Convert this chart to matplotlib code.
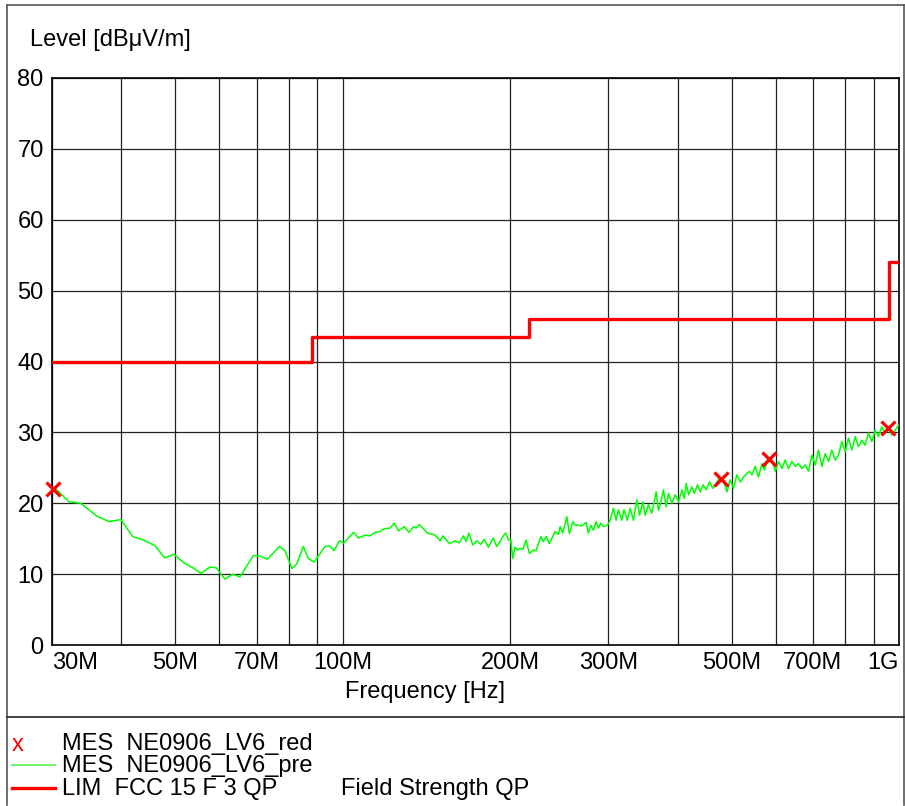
import numpy as np
import matplotlib
matplotlib.use("Agg")
import matplotlib.pyplot as plt
from matplotlib.lines import Line2D
from matplotlib.ticker import NullLocator

plt.rcParams['font.family'] = ['Liberation Sans', 'DejaVu Sans']

# preview scan (MHz, dBuV/m)
pre_freq = [30.4, 32.2, 33.8, 36.1, 38.0, 39.9, 41.9, 43.8, 46.0, 47.8, 49.7, 51.8, 54.0, 55.6,
            57.7, 59.2, 61.4, 63.4, 65.3, 69.0, 70.6, 73.2, 76.9, 78.7, 81.0, 82.6, 84.9, 86.7,
            88.8, 92.9, 94.6, 96.4, 98.6, 100.5, 104.5, 106.7, 109.7, 112.0, 114.3, 116.7, 118.6,
            121.6, 123.8, 125.9, 128.9, 131.6, 134.0, 135.5, 137.3, 142.0, 146.6, 149.6, 151.3,
            155.5, 159.2, 162.1, 164.8, 166.6, 168.5, 171.3, 174.1, 177.0, 179.7, 182.7, 186.5,
            189.1, 191.8, 193.9, 196.3, 198.5, 200.4, 202.1, 204.0, 206.0, 208.3, 210.7, 213.6,
            216.5, 220.2, 222.6, 227.0, 229.4, 232.0, 235.2, 240.8, 244.2, 245.9, 248.6, 252.8,
            255.5, 259.1, 261.6, 265.2, 269.0, 273.8, 276.4, 279.2, 282.2, 285.3, 288.1, 290.9,
            294.1, 299.0, 302.4, 306.5, 310.0, 313.0, 317.3, 320.4, 324.7, 328.6, 333.1, 337.9,
            341.5, 346.3, 349.6, 354.4, 359.3, 365.9, 369.4, 373.1, 377.1, 381.4, 385.1, 390.6,
            396.0, 401.4, 407.2, 411.0, 414.4, 418.4, 424.3, 428.4, 434.3, 439.2, 444.2, 450.2,
            456.3, 463.0, 467.4, 473.7, 483.7, 490.4, 497.2, 504.0, 511.1, 518.3, 525.4, 532.8,
            538.5, 544.3, 551.5, 559.1, 567.1, 572.5, 580.3, 590.9, 599.0, 607.3, 615.9, 624.4,
            632.9, 641.9, 650.8, 659.7, 669.0, 678.3, 687.7, 697.4, 707.0, 716.5, 726.8, 736.7,
            746.9, 757.4, 767.8, 778.4, 789.3, 800.3, 811.3, 822.8, 834.3, 845.4, 857.4, 869.2,
            881.3, 893.7, 906.0, 918.5, 931.3, 944.3, 957.4, 971.0, 984.4, 997.8]
pre_level = [22.1, 20.2, 20.0, 18.2, 17.4, 17.7, 15.3, 14.8, 14.0, 12.3, 12.8, 11.6, 10.8, 10.1,
             11.0, 10.9, 9.3, 10.0, 9.6, 12.6, 12.6, 12.1, 13.9, 13.3, 10.8, 11.4, 13.9, 12.2,
             11.7, 13.9, 14.0, 13.3, 14.7, 14.4, 15.9, 15.1, 15.5, 15.4, 15.9, 16.0, 16.4,
             16.5, 17.2, 16.1, 16.7, 15.9, 16.7, 16.5, 17.0, 15.8, 15.5, 14.7, 15.4,
             14.3, 14.7, 14.4, 15.4, 14.6, 15.8, 14.1, 14.7, 14.2, 14.9, 13.8, 15.1,
             13.9, 14.6, 15.3, 15.8, 14.8, 14.9, 12.2, 13.8, 13.4, 13.6, 13.5, 14.8,
             12.9, 13.4, 13.3, 15.3, 14.6, 15.3, 14.3, 16.0, 15.6, 16.7, 15.8, 18.1,
             15.7, 17.4, 16.9, 16.9, 16.8, 17.3, 15.8, 16.9, 16.2, 17.4, 16.5, 17.2,
             16.7, 16.9, 17.6, 19.3, 17.6, 19.1, 17.6, 19.1, 17.6, 19.3, 17.6, 20.5,
             18.3, 20.2, 18.3, 19.8, 18.6, 21.6, 19.0, 20.2, 21.9, 19.5, 21.4, 20.0,
             21.2, 20.2, 21.9, 20.7, 22.8, 21.2, 22.3, 21.4, 22.6, 21.6, 22.6, 21.9,
             23.0, 22.1, 22.6, 23.4, 23.3, 21.6, 23.3, 22.1, 24.0, 23.0, 23.7, 24.2,
             24.5, 24.0, 25.2, 23.7, 25.6, 24.7, 25.9, 26.1, 24.5, 25.9, 24.9, 26.1,
             24.9, 25.9, 25.2, 25.6, 24.9, 25.4, 24.5, 26.8, 25.4, 27.5, 25.2, 27.0,
             25.9, 27.5, 26.1, 26.8, 28.7, 27.3, 29.2, 27.5, 29.4, 28.0, 28.9, 28.2,
             29.9, 28.7, 30.3, 29.4, 30.8, 29.9, 30.6, 29.6, 30.3, 31.0]

# final measurements
mes_freq = [30.1, 479.0, 585.0, 957.0]
mes_level = [22.0, 23.4, 26.3, 30.6]

# FCC 15 class B limit (step edges)
lim_freq = [30, 88, 88, 216, 216, 960, 960, 1000]
lim_level = [40, 40, 43.5, 43.5, 46, 46, 54, 54]

grid_freq = [30, 40, 50, 60, 70, 80, 90, 100, 200, 300, 400, 500, 600, 700, 800, 900, 1000]
grid_labels = ['30M', '', '50M', '', '70M', '', '', '100M', '200M', '300M', '', '500M',
               '', '700M', '', '', '1G']
y_ticks = [0, 10, 20, 30, 40, 50, 60, 70, 80]

FS = 17
W, H = 905, 806
fig = plt.figure(figsize=(W / 100, H / 100), dpi=100)


def fx(x):
    return x / W


def fy(y):
    return 1 - y / H


ax = fig.add_axes([fx(52), fy(645), fx(899) - fx(52), fy(78) - fy(645)])
ax.set_xscale('log')
ax.set_xlim(30, 1000)
ax.set_ylim(0, 80)
ax.set_xticks(grid_freq)
ax.set_xticklabels(grid_labels)
ax.xaxis.set_minor_locator(NullLocator())
ax.set_yticks(y_ticks)
ax.tick_params(length=0, labelsize=FS)
ax.tick_params(axis='x', pad=5)
ax.tick_params(axis='y', pad=6)
labels = ax.get_xticklabels()
labels[0].set_ha('left')
labels[-1].set_ha('right')
ax.grid(True, color='#222222', lw=0.9)
for s in ax.spines.values():
    s.set_color('black')
    s.set_linewidth(1.2)

ax.plot(pre_freq, pre_level, color='#00ff00', lw=1.1, zorder=3)
ax.plot(lim_freq, lim_level, color='#ff0000', lw=2.4, zorder=4)
ax.plot(mes_freq, mes_level, ls='none', marker='x', color='#ff0000', ms=10, mew=2.3,
        zorder=5, clip_on=False)

fig.text(fx(30), fy(40), 'Level [dBμV/m]', fontsize=FS, va='center', ha='left')
fig.text(fx(425), fy(692), 'Frequency [Hz]', fontsize=FS, va='center', ha='center')

# outer frame and legend separator
frame = dict(color='#555555', lw=1.2)
fig.add_artist(Line2D([fx(7), fx(904)], [fy(4.5), fy(4.5)], **frame))
fig.add_artist(Line2D([fx(7), fx(7)], [fy(4.5), fy(805)], **frame))
fig.add_artist(Line2D([fx(904), fx(904)], [fy(4.5), fy(805)], **frame))
fig.add_artist(Line2D([fx(7), fx(904)], [fy(716.5), fy(716.5)], color='#222222', lw=1.2))

# legend rows
fig.text(fx(18), fy(745), 'x', color='#ff0000', fontsize=FS, ha='center', va='center')
fig.text(fx(62), fy(744), 'MES  NE0906_LV6_red', fontsize=FS, va='center')
fig.add_artist(Line2D([fx(12), fx(55)], [fy(765), fy(765)], color='#55ee55', lw=1.2))
fig.text(fx(62), fy(766), 'MES  NE0906_LV6_pre', fontsize=FS, va='center')
fig.add_artist(Line2D([fx(12), fx(55)], [fy(788), fy(788)], color='#ff0000', lw=2.4))
fig.text(fx(62), fy(789), 'LIM  FCC 15 F 3 QP', fontsize=FS, va='center')
fig.text(fx(341), fy(789), 'Field Strength QP', fontsize=FS, va='center')

fig.savefig('out.png', dpi=100)
